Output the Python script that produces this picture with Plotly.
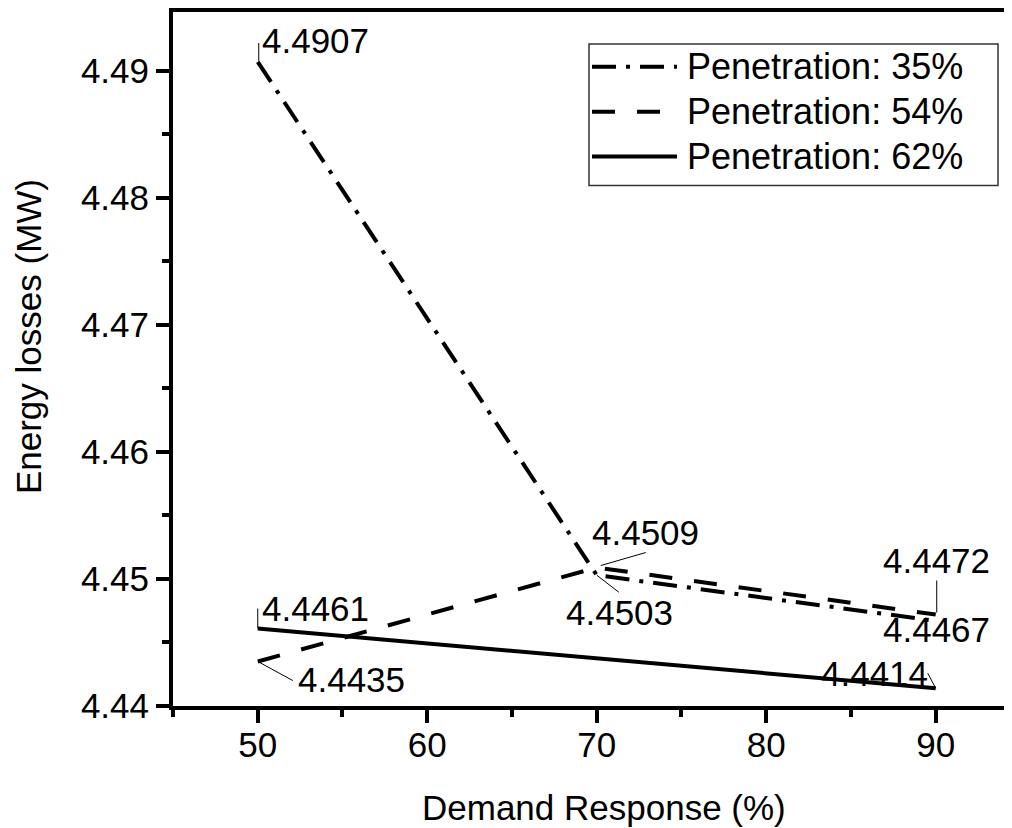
import plotly.graph_objects as go

# ---------------- data ----------------
dr_35 = [50, 70, 90]
loss_35 = [4.4907, 4.4503, 4.4467]
dr_54 = [50, 70, 90]
loss_54 = [4.4435, 4.4509, 4.4472]
dr_62 = [50, 90]
loss_62 = [4.4461, 4.4414]
series_names = ["Penetration: 35%", "Penetration: 54%", "Penetration: 62%"]
x_tick_vals = [50, 60, 70, 80, 90]
y_tick_vals = [4.44, 4.45, 4.46, 4.47, 4.48, 4.49]
x_title = "Demand Response (%)"
y_title = "Energy losses (MW)"

# ---------------- style ----------------
FONT = "Liberation Sans, Arial, sans-serif"
OFF = 8                      # page body margin of the browser
W, H = 1012 - OFF, 828 - OFF
ML, MR, MT = 173 - OFF, 0, 2
MB = H - (706 - OFF)
PW, PH = W - ML - MR, H - MT - MB
Y_TOP = 4.44 + PH / 12740.0
dashes = ["24px,10px,4px,10px", "23px,22px", "solid"]
FS = 35

# label placement per point: (text dx, text dy, xanchor, leader segment or None); dy positive = up
label_style = {
    (0, 0): (2, 21, "left", (1, 1, 1, 19)),
    (0, 1): (23, -37, "center", (0, 0, 22, -17)),
    (0, 2): (1, -9, "center", None),
    (1, 0): (94, -18, "center", (2, -1, 35, -19)),
    (1, 1): (49, 35, "center", (4, 2, 49, 15)),
    (1, 2): (1, 54, "center", (1, 2, 1, 34)),
    (2, 0): (2, 20, "left", (0, 0, 0, 20)),
    (2, 1): (-61, 15, "center", (0, 0, -8, 15)),
}

series = [(dr_35, loss_35), (dr_54, loss_54), (dr_62, loss_62)]

fig = go.Figure()
for (xs, ys), name, dash in zip(series, series_names, dashes):
    fig.add_trace(go.Scatter(
        x=xs, y=ys, mode="lines", name=name,
        line=dict(color="black", width=4, dash=dash),
        showlegend=False,
    ))

annotations = []
shapes = []
for si, (xs, ys) in enumerate(series):
    for pi, (xv, yv) in enumerate(zip(xs, ys)):
        dx, dy, xanc, seg = label_style[(si, pi)]
        annotations.append(dict(
            x=xv, y=yv, xref="x", yref="y", text=f"{yv:.4f}",
            showarrow=False, xanchor=xanc, yanchor="middle",
            xshift=dx, yshift=dy,
            font=dict(family=FONT, size=FS, color="black"),
        ))
        if seg is not None:
            x0, y0, x1, y1 = seg
            shapes.append(dict(
                type="line", xref="x", yref="y",
                xsizemode="pixel", ysizemode="pixel",
                xanchor=xv, yanchor=yv,
                x0=x0, y0=y0, x1=x1, y1=y1,
                line=dict(color="black", width=1),
            ))


def px2paper(px, py):
    """screen pixel -> paper fraction"""
    fx, fy = px - OFF, py - OFF
    return (fx - ML) / PW, (H - MB - fy) / PH


# manual legend (long line samples as in the original)
bx0, by0 = px2paper(589, 184)
bx1, by1 = px2paper(998, 42)
shapes.append(dict(type="rect", xref="paper", yref="paper",
                   x0=bx0, y0=by0, x1=bx1, y1=by1,
                   line=dict(color="#333333", width=1.5), fillcolor="white", layer="above"))
row_y = [65, 110, 155]
for name, dash, ry in zip(series_names, dashes, row_y):
    lx0, ly = px2paper(592, ry)
    lx1, _ = px2paper(677, ry)
    shapes.append(dict(type="line", xref="paper", yref="paper",
                       x0=lx0, y0=ly, x1=lx1, y1=ly, layer="above",
                       line=dict(color="black", width=4, dash=dash)))
    tx, ty = px2paper(685, ry)
    annotations.append(dict(x=tx, y=ty, xref="paper", yref="paper", text=name,
                            showarrow=False, xanchor="left", yanchor="middle",
                            font=dict(family=FONT, size=FS + 1, color="black")))

# axis titles
tx, ty = px2paper(604, 808)
annotations.append(dict(x=tx, y=ty, xref="paper", yref="paper", text=x_title,
                        showarrow=False, xanchor="center", yanchor="middle",
                        font=dict(family=FONT, size=FS, color="black")))
tx, ty = px2paper(28, 336)
annotations.append(dict(x=tx, y=ty, xref="paper", yref="paper", text=y_title,
                        showarrow=False, xanchor="center", yanchor="middle", textangle=-90,
                        font=dict(family=FONT, size=FS, color="black")))

fig.update_layout(
    width=W, height=H,
    margin=dict(l=ML, r=MR, t=MT, b=MB, pad=0),
    paper_bgcolor="white", plot_bgcolor="white",
    showlegend=False,
    annotations=annotations, shapes=shapes,
    font=dict(family=FONT, size=FS, color="black"),
)
fig.update_xaxes(
    range=[45, 94.5], tickmode="array", tickvals=x_tick_vals,
    showgrid=False, zeroline=False,
    showline=True, linecolor="black", linewidth=4, mirror=True,
    ticks="outside", ticklen=13, tickwidth=4, tickcolor="black",
    ticklabelstandoff=-8,
    minor=dict(ticks="outside", ticklen=7, tickwidth=4, tickcolor="black", tick0=45, dtick=5, showgrid=False),
    tickfont=dict(family=FONT, size=FS, color="black"),
)
fig.update_yaxes(
    range=[4.44, Y_TOP], tickmode="array", tickvals=y_tick_vals, tickformat=".2f",
    showgrid=False, zeroline=False,
    showline=True, linecolor="black", linewidth=4, mirror=False,
    ticks="outside", ticklen=13, tickwidth=4, tickcolor="black",
    minor=dict(ticks="outside", ticklen=7, tickwidth=4, tickcolor="black", tick0=4.44, dtick=0.005, showgrid=False),
    tickfont=dict(family=FONT, size=FS, color="black"),
)

fig.write_html("out.html")
